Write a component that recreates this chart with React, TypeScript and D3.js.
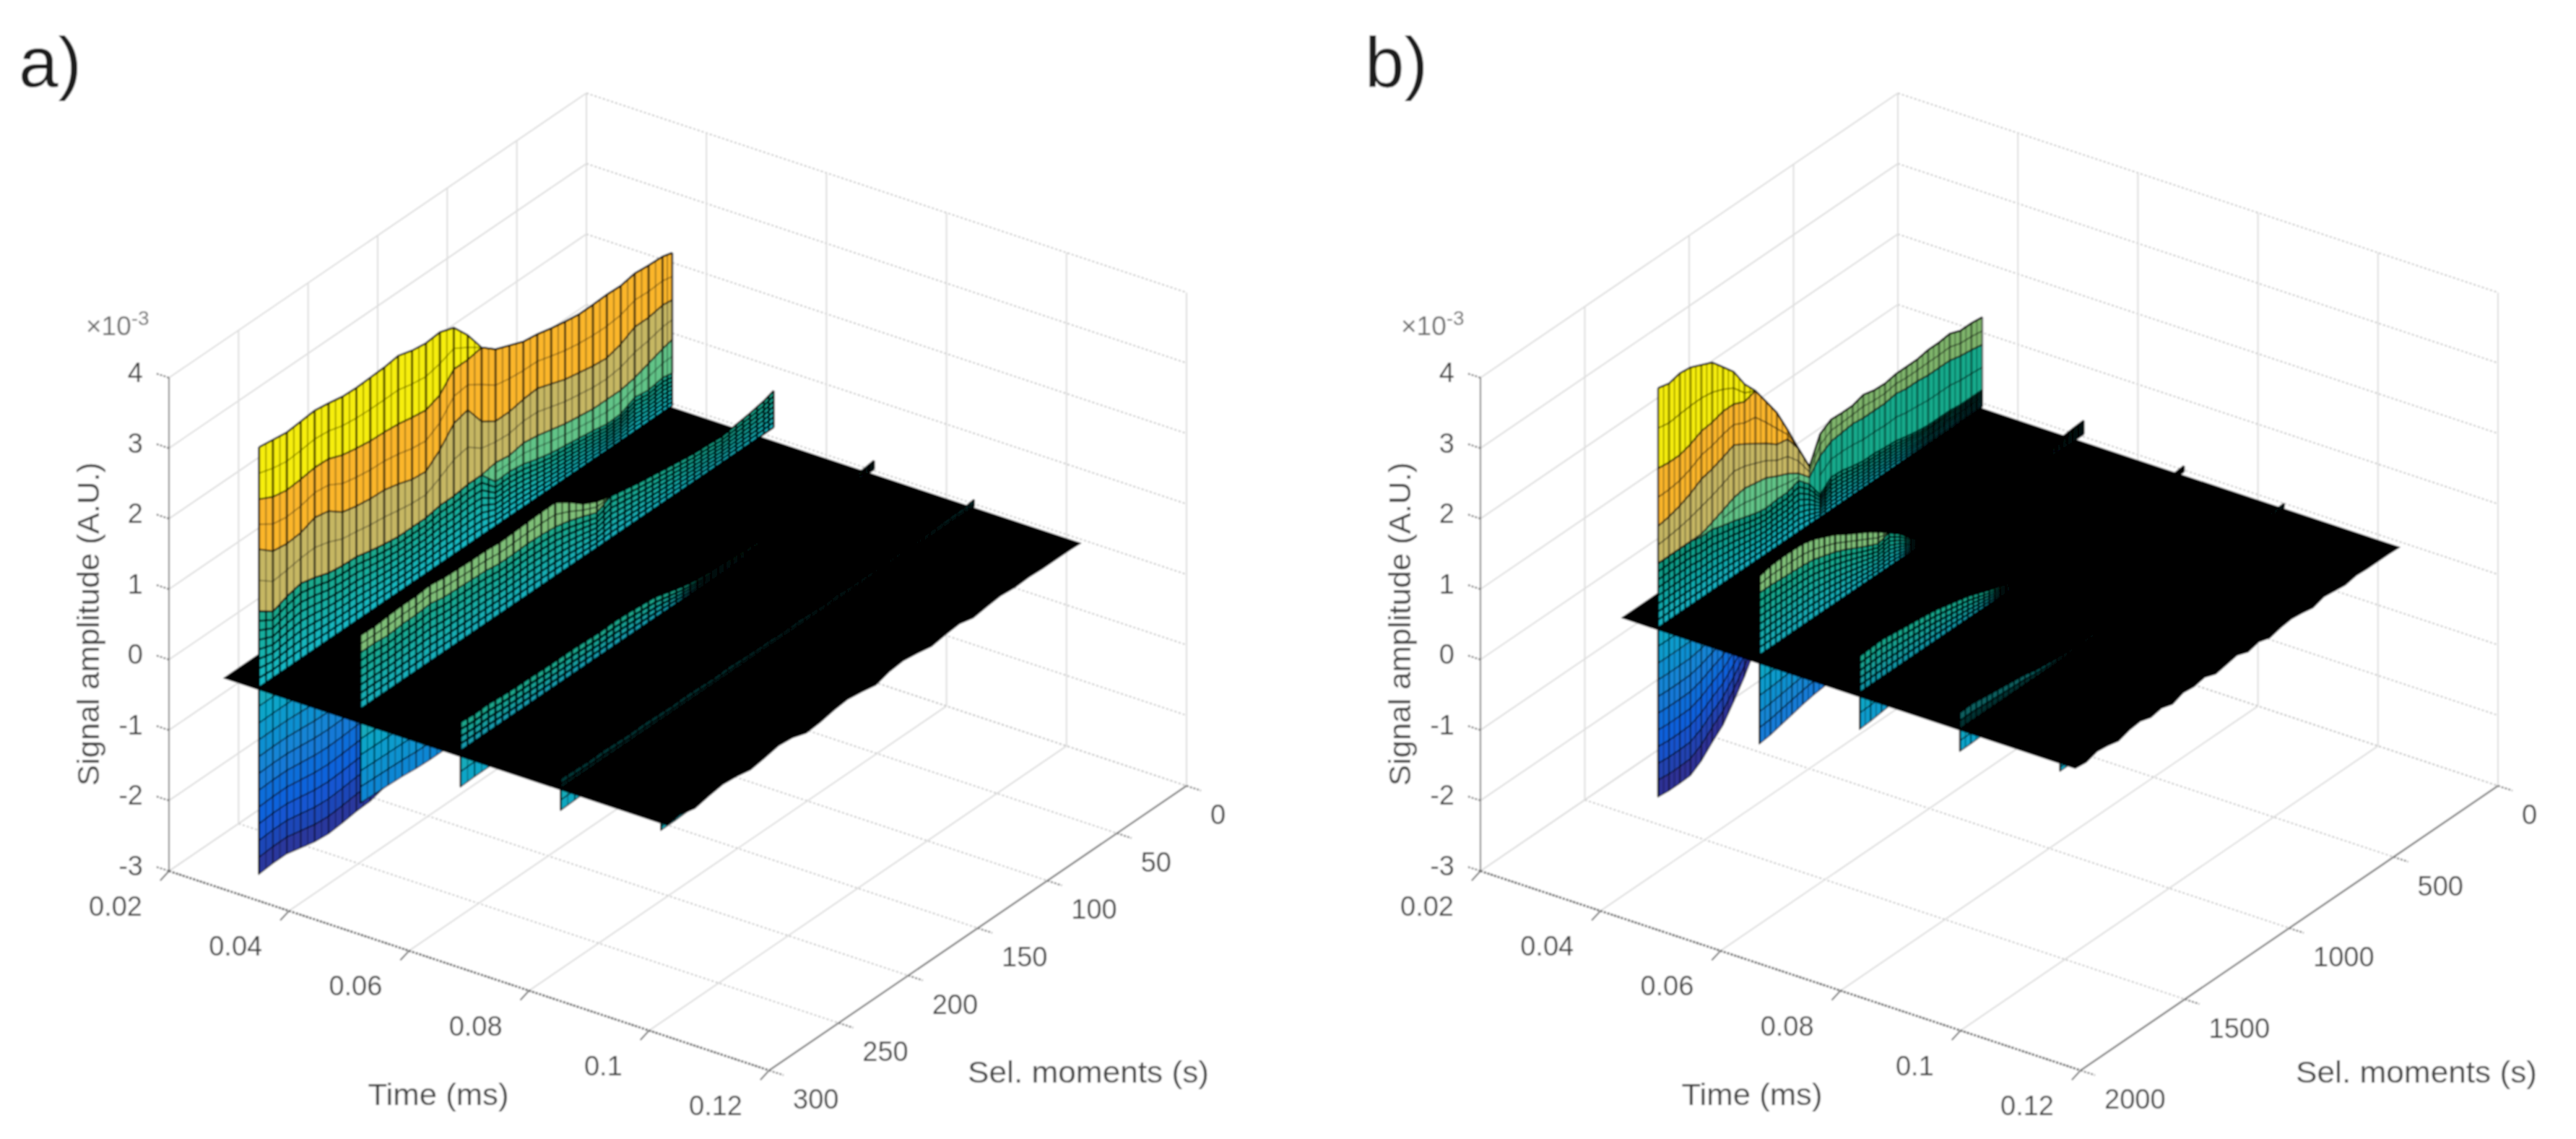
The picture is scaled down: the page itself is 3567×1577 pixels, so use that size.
import React from "react";
import * as d3 from "d3";

// ---------- tick labels ----------
const zTicks = [-3, -2, -1, 0, 1, 2, 3, 4];
const tTicks = [0.02, 0.04, 0.06, 0.08, 0.1, 0.12];
const tLabels = ["0.02", "0.04", "0.06", "0.08", "0.1", "0.12"];
const mTicksA = [0, 50, 100, 150, 200, 250, 300];
const mTicksB = [0, 500, 1000, 1500, 2000];
const wallTimes = [0.035, 0.0519, 0.0686, 0.0853, 0.102];

// ---------- panel a) values: amplitude (x10^-3) along each wall, one per column ----------
const momentsA = [300, 290, 280, 270, 260, 250, 240, 230, 220, 210, 200, 190, 180, 170, 160, 150, 140, 130, 120, 110, 100, 90, 80, 70, 60, 50, 40, 30, 20, 10, 3];
const aW1Top = [3.44, 3.41, 3.38, 3.4, 3.42, 3.39, 3.35, 3.34, 3.35, 3.36, 3.39, 3.33, 3.3, 3.32, 3.25, 3.01, 2.7, 2.54, 2.46, 2.38, 2.35, 2.3, 2.26, 2.23, 2.23, 2.24, 2.23, 2.27, 2.25, 2.24, 2.2];
const aW1Yellow = [2.7, 2.6, 2.56, 2.58, 2.61, 2.6, 2.52, 2.48, 2.45, 2.44, 2.42, 2.38, 2.35, 2.43, 2.66, 2.66];
const aW1Amber = [1.99, 1.83, 1.8, 1.82, 1.9, 1.86, 1.71, 1.66, 1.63, 1.62, 1.57, 1.5, 1.48, 1.65, 1.89, 1.95, 1.65, 1.52, 1.52, 1.56, 1.58, 1.51, 1.44, 1.4, 1.36, 1.34, 1.4, 1.51, 1.51, 1.55, 1.53];
const aW1Khaki = [1.11, 0.97, 1.05, 1.1, 1.05, 0.98, 0.95, 0.94, 0.89, 0.85, 0.82, 0.82, 0.82, 0.86, 0.86, 0.89, 0.89, 0.93, 0.9, 0.94, 0.91, 0.86, 0.81, 0.78, 0.75, 0.75, 0.75, 0.79, 0.86, 0.93, 0.97];
const aW1Green = [null, null, null, null, null, null, null, null, null, null, null, null, null, null, null, null, null, 0.66, 0.67, 0.64, 0.58, 0.53, 0.5, 0.47, 0.44, 0.4, 0.41, 0.51, 0.48, 0.52, 0.49];
const aW2Top = [1.25, 1.24, 1.26, 1.27, 1.27, 1.29, 1.26, 1.25, 1.24, 1.24, 1.22, 1.23, 1.24, 1.25, 1.25, 1.12, 0.96, 0.86, 0.8, 0.76, 0.72, 0.69, 0.66, 0.63, 0.6, 0.59, 0.57, 0.6, 0.63, 0.67, 0.72];
const aW2Lime = [1, 1, 0.98, 1, 1, 1.02, 0.98, 0.97, 0.96, 0.95, 0.92, 0.92, 0.93, 0.92, 0.9, 0.85, 0.78, 0.7];
const aW3Top = [0.49, 0.47, 0.48, 0.46, 0.45, 0.45, 0.44, 0.44, 0.44, 0.43, 0.42, 0.43, 0.42, 0.4, 0.38, 0.32, 0.26, 0.22, 0.2, 0.19, 0.18, 0.17, 0.17, 0.16, 0.16, 0.15, 0.16, 0.15, 0.16, 0.18, 0.2];
const aW4Top = [0.16, 0.15, 0.14, 0.15, 0.14, 0.13, 0.14, 0.13, 0.12, 0.13, 0.12, 0.11, 0.12, 0.11, 0.1, 0.1, 0.09, 0.1, 0.09, 0.08, 0.09, 0.08, 0.08, 0.07, 0.08, 0.07, 0.08, 0.09, 0.1, 0.1, 0.12];
const aNeg1 = [-2.62, -2.6, -2.6, -2.65, -2.7, -2.72, -2.7, -2.67, -2.66, -2.6, -2.5, -2.3, -2, -1.6, -1];
const aNeg2 = [-1.13, -1.14, -1.15, -1.16, -1.18, -1.19, -1.19, -1.17, -1.1, -0.9, -0.5, 0];
const aNeg3 = [-0.43, -0.42, -0.42, -0.4, -0.35, -0.2, 0];
const aNeg4 = [-0.29, -0.28, -0.27, -0.25, -0.2, -0.1, 0];
const aNeg5 = [-0.1, -0.1, -0.09, -0.08, -0.05, 0];
const aEdge = [0, 0.02, -0.03, 0.01, 0.04, 0.02, -0.02, 0.01, 0.05, 0.03, -0.04, -0.02, 0.02, 0.04, 0.01, -0.03, 0.03, 0.05, 0.02, -0.02, 0.01, 0.03, -0.02, 0.01, 0.03, 0.01, 0.02, 0.01, 0.01, 0.01, 0];

// ---------- panel b) values ----------
const momentsB = [1580, 1528, 1476, 1425, 1373, 1321, 1269, 1218, 1166, 1114, 1062, 1011, 959, 907, 855, 804, 752, 700, 648, 597, 545, 493, 441, 390, 338, 286, 234, 183, 131, 79, 27];
const bW1Top = [3.43, 3.39, 3.43, 3.41, 3.34, 3.27, 3.1, 2.93, 2.65, 2.45, 2.19, 1.93, 1.58, 1.21, 0.85, 1.21, 1.31, 1.3, 1.3, 1.35, 1.31, 1.3, 1.33, 1.33, 1.33, 1.36, 1.36, 1.38, 1.32, 1.32, 1.3];
const bW1Yellow = [2.29, 2.27, 2.27, 2.32, 2.4, 2.42, 2.47, 2.47, 2.4];
const bW1Amber = [1.47, 1.5, 1.55, 1.62, 1.72, 1.76, 1.82, 1.89, 1.8, 1.7, 1.6, 1.48, 1.45];
const bW1Khaki = [0.94, 0.94, 0.94, 0.94, 0.94, 1, 1.07, 1.14, 1.17, 1.14, 1.11, 1.03, 0.96, 0.86, 0.7, 0.9, 1, 1.02, 1.04, 1.02, 1.02, 1.02, 1.05, 1.02, 1.02, 1, 1, 1, 0.96, 0.94, 0.91];
const bW1Green = [0.94, 0.94, 0.94, 0.94, 0.9, 0.9, 0.85, 0.81, 0.76, 0.71, 0.68, 0.7, 0.7, 0.76, 0.6, 0.35, 0.49, 0.48, 0.44, 0.41, 0.41, 0.39, 0.38, 0.34, 0.31, 0.29, 0.29, 0.29, 0.27, 0.27, 0.27];
const bW2Top = [1.24, 1.28, 1.29, 1.29, 1.28, 1.24, 1.17, 1.1, 1, 0.91, 0.82, 0.72, 0.6, 0.48, 0.31, 0.2, 0.16, 0.18, 0.2, 0.22, 0.2, 0.2, 0.22, 0.24, 0.25, 0.26, 0.26, 0.27, 0.28, 0.3, 0.31];
const bW2Lime = [1, 1, 0.99, 0.98, 0.97, 0.95, 0.9, 0.85, 0.78, 0.7, 0.62, 0.55];
const bW3Top = [0.58, 0.59, 0.6, 0.58, 0.56, 0.54, 0.52, 0.5, 0.46, 0.42, 0.38, 0.32, 0.26, 0.2, 0.15, 0.1, 0.09, 0.08, 0.09, 0.08, 0.08, 0.07, 0.08, 0.09, 0.08, 0.09, 0.1, 0.1, 0.11, 0.12, 0.14];
const bW4Top = [0.25, 0.26, 0.24, 0.22, 0.2, 0.18, 0.16, 0.12, 0.1, 0.08, 0.07, 0.06, 0.07, 0.06, 0.06, 0.05, 0.06, 0.05, 0.06, 0.05, 0.05, 0.06, 0.05, 0.06, 0.05, 0.06, 0.05, 0.06, 0.06, 0.07, 0.08];
const bNeg1 = [-2.37, -2.39, -2.39, -2.38, -2.28, -2.12, -1.98, -1.75, -1.5, -1.2, -0.9, -0.5, -0.2, 0];
const bNeg2 = [-1.14, -1.12, -1.08, -1.04, -1, -0.97, -0.95, -0.9, -0.8, -0.6, -0.4, -0.2, 0];
const bNeg3 = [-0.46, -0.45, -0.43, -0.41, -0.38, -0.3, -0.15, 0];
const bNeg4 = [-0.3, -0.3, -0.29, -0.25, -0.15, 0];
const bNeg5 = [-0.11, -0.11, -0.1, -0.05, 0];
const bEdge = [0, -0.02, 0.03, 0.01, -0.03, 0.02, 0.04, -0.01, 0.02, -0.03, 0.03, 0.01, 0.04, -0.02, 0.01, 0.04, -0.02, 0.02, -0.03, 0.01, 0.03, 0.01, -0.02, 0.03, 0.01, -0.01, 0.02, 0.01, 0.01, 0.01, 0];

// ---------- colours ----------
const parulaStops = ["#352a87", "#0f5cdd", "#1481d6", "#06a4ca", "#2eb7a4", "#87bf77", "#d1bb59", "#fec832", "#f9fb0e"];
const parula = d3.piecewise(d3.interpolateRgb, parulaStops);
const YELLOW = "#f6ee08";
const AMBER = "#fbb62c";
const KHAKI = "#c6b764";
const GREEN = "#62c488";
const OLIVE = "#7fb56c";
const JADE = "#14ab8c";
const LIME = "#7fbf78";
const INK = "#3f3f3f";
const GRID = "#dddddd";
const GRID_DOT = "#c4c4c4";
const FONT = "'Liberation Sans', Arial, sans-serif";

type P = (t: number, m: number, z: number) => [number, number];
const lineGen = d3.line();

function makeProjection(x0: number, mMax: number): P {
  const tX = d3.scaleLinear().domain([0.02, 0.12]).range([0, 831]);
  const tY = d3.scaleLinear().domain([0.02, 0.12]).range([0, 276]);
  const mX = d3.scaleLinear().domain([mMax, 0]).range([0, 578]);
  const mY = d3.scaleLinear().domain([mMax, 0]).range([0, -394]);
  const zY = d3.scaleLinear().domain([-3, 4]).range([0, -683]);
  return (t, m, z) => [x0 + tX(t) + mX(m), 1206 + tY(t) + mY(m) + zY(z)];
}

type Segment = { from: number; to: number; colors: string[] };
type WallSpec = {
  t: number;
  top: number[];
  lowers: (number | null)[][];
  segments: Segment[];
  rows: number;
  floor: number;
  tealTop: string;
  tealBottom: string;
  strong: number;
  weak: number;
  strokeW: number;
  midOp: number;
};

function Wall({ p, columns, spec }: { p: P; columns: number[]; spec: WallSpec }) {
  const n = spec.top.length;
  const levels: number[][] = [spec.top];
  spec.lowers.forEach((arr) => {
    const prev = levels[levels.length - 1];
    levels.push(spec.top.map((_, j) => arr[j] ?? prev[j]));
  });
  const last = levels[levels.length - 1];
  const pts = (lvl: number[], from = 0, to = n - 1) =>
    d3.range(from, to + 1).map((j) => p(spec.t, columns[j], lvl[j]));
  const poly = (up: number[], lo: number[], from = 0, to = n - 1) =>
    lineGen([...pts(up, from, to), ...pts(lo, from, to).reverse()]) + "Z";

  const rowLevels = d3.range(0, spec.rows + 1).map((r) =>
    last.map((v) => Math.max(spec.floor, v) - (Math.max(spec.floor, v) - spec.floor) * (r / spec.rows))
  );
  const tealColor = d3.interpolateRgb(spec.tealTop, spec.tealBottom);
  const floorLvl = rowLevels[spec.rows];

  const verts: { x: number; yTop: number; yMid: number; yBot: number; strong: boolean }[] = [];
  for (let j = 0; j < n; j++) {
    const a = p(spec.t, columns[j], spec.top[j]);
    const b = p(spec.t, columns[j], Math.max(last[j], spec.floor));
    const c = p(spec.t, columns[j], spec.floor);
    verts.push({ x: a[0], yTop: a[1], yMid: b[1], yBot: c[1], strong: true });
    if (j < n - 1) {
      const a2 = p(spec.t, columns[j + 1], spec.top[j + 1]);
      const b2 = p(spec.t, columns[j + 1], Math.max(last[j + 1], spec.floor));
      const c2 = p(spec.t, columns[j + 1], spec.floor);
      verts.push({ x: (a[0] + a2[0]) / 2, yTop: (a[1] + a2[1]) / 2, yMid: (b[1] + b2[1]) / 2, yBot: (c[1] + c2[1]) / 2, strong: false });
    }
  }

  return (
    <g>
      {spec.segments.map((seg, s) =>
        seg.colors.map((col, i) => (
          <path key={`b${s}-${i}`} d={poly(levels[i], levels[i + 1], seg.from, seg.to)} fill={col} stroke="none" />
        ))
      )}
      {d3.range(0, spec.rows).map((r) => (
        <path key={`r${r}`} d={poly(rowLevels[r], rowLevels[r + 1])} fill={tealColor(r / Math.max(1, spec.rows - 1))} stroke="none" />
      ))}
      {verts.map((v, i) => (
        <g key={`v${i}`}>
          <line x1={v.x} x2={v.x} y1={v.yTop} y2={v.yMid} stroke="#000" strokeOpacity={v.strong ? spec.strong : spec.weak} strokeWidth={v.strong ? 3 : 1.8} />
          <line x1={v.x} x2={v.x} y1={v.yMid} y2={v.yBot} stroke="#000" strokeOpacity={0.9} strokeWidth={spec.strokeW} />
        </g>
      ))}
      {rowLevels.slice(1).map((lvl, r) => (
        <path key={`rl${r}`} d={lineGen(pts(lvl)) as string} fill="none" stroke="#000" strokeOpacity={0.9} strokeWidth={spec.strokeW} />
      ))}
      {levels.slice(0, -1).map((lvl, i) => {
        const next = levels[i + 1];
        const mid = lvl.map((v, j) => (v + next[j]) / 2);
        const gapped = d3.range(0, n - 1).filter((j) => lvl[j] - next[j] > 0.12);
        return (
          <g key={`m${i}`}>
            {gapped.map((j) => (
              <path key={j} d={lineGen([p(spec.t, columns[j], mid[j]), p(spec.t, columns[j + 1], mid[j + 1])]) as string} stroke="#000" strokeOpacity={spec.midOp} strokeWidth={1.6} fill="none" />
            ))}
          </g>
        );
      })}
      {levels.slice(1).map((lvl, i) => (
        <path key={`l${i}`} d={lineGen(pts(lvl)) as string} fill="none" stroke="#000" strokeOpacity={0.8} strokeWidth={2.2} />
      ))}
      <path d={lineGen(pts(spec.top)) as string} fill="none" stroke="#000" strokeOpacity={0.9} strokeWidth={2.6} />
      <path d={lineGen([p(spec.t, columns[0], spec.top[0]), p(spec.t, columns[0], floorLvl[0])]) as string} stroke="#000" strokeOpacity={0.7} strokeWidth={2} fill="none" />
    </g>
  );
}

function NegWall({ p, t, columns, depth, clim }: { p: P; t: number; columns: number[]; depth: number[]; clim: d3.ScaleLinear<number, number> }) {
  const rows = Math.max(2, Math.ceil(Math.abs(depth[0]) / 0.24));
  const lvl = (f: number) => depth.map((d, j) => p(t, columns[j], d * f));
  return (
    <g>
      {d3.range(0, rows).map((r) => {
        const up = lvl(r / rows);
        const lo = lvl((r + 1) / rows);
        return (
          <path key={r} d={lineGen([...up, ...lo.slice().reverse()]) + "Z"} fill={parula(clim(depth[0] * ((r + 0.7) / rows)))} stroke="#000" strokeOpacity={0.6} strokeWidth={1.7} />
        );
      })}
      {depth.map((d, j) => {
        const a = p(t, columns[j], 0);
        const b = p(t, columns[j], d);
        const next = j < depth.length - 1 ? p(t, columns[j + 1], depth[j + 1]) : b;
        const nextA = j < depth.length - 1 ? p(t, columns[j + 1], 0) : a;
        return (
          <g key={j}>
            <line x1={a[0]} x2={b[0]} y1={a[1]} y2={b[1]} stroke="#000" strokeOpacity={0.55} strokeWidth={2.2} />
            <line x1={(a[0] + nextA[0]) / 2} x2={(b[0] + next[0]) / 2} y1={(a[1] + nextA[1]) / 2} y2={(b[1] + next[1]) / 2} stroke="#000" strokeOpacity={0.35} strokeWidth={1.6} />
          </g>
        );
      })}
      <path d={lineGen([p(t, columns[0], 0), p(t, columns[0], depth[0])]) as string} stroke="#000" strokeWidth={2.5} fill="none" />
    </g>
  );
}

function Panel({ x0, mMax, mTicks, label, labelX, momentsLabelX, timeLabelX, expX, columns, walls, negs, edge, tSheet, clim }: any) {
  const p = makeProjection(x0, mMax);
  const seg = (a: [number, number], b: [number, number]) => lineGen([a, b]) as string;
  const columnsRev = columns.slice().reverse();
  const sheet =
    lineGen([
      p(tSheet[0], columns[0], 0),
      p(tSheet[1], columns[0], edge[0]),
      ...columns.map((m: number, j: number) => p(tSheet[1], m, edge[j])),
      p(tSheet[0], columnsRev[0], 0),
    ]) + "Z";
  const txt = { fontFamily: FONT, fill: INK };
  return (
    <g>
      <g fill="none" strokeWidth={2}>
        {zTicks.map((z) => (
          <g key={z}>
            <path d={seg(p(0.02, mMax, z), p(0.02, 0, z))} stroke={GRID} />
            <path d={seg(p(0.02, 0, z), p(0.12, 0, z))} stroke={GRID_DOT} strokeDasharray="3 3" />
          </g>
        ))}
        {mTicks.map((m: number) => (
          <g key={m}>
            <path d={seg(p(0.02, m, -3), p(0.02, m, 4))} stroke={GRID} />
            <path d={seg(p(0.02, m, -3), p(0.12, m, -3))} stroke={GRID_DOT} strokeDasharray="3 3" />
          </g>
        ))}
        {tTicks.map((t) => (
          <g key={t}>
            <path d={seg(p(t, 0, -3), p(t, 0, 4))} stroke={GRID} />
            <path d={seg(p(t, mMax, -3), p(t, 0, -3))} stroke={GRID} />
          </g>
        ))}
      </g>
      <g fill="none">
        <path d={seg(p(0.02, mMax, -3), p(0.02, mMax, 4))} stroke="#8a8a8a" strokeWidth={2.2} />
        <path d={seg(p(0.02, mMax, -3), p(0.12, mMax, -3))} stroke="#5e5e5e" strokeWidth={3} strokeDasharray="3 2" />
        <path d={seg(p(0.12, mMax, -3), p(0.12, 0, -3))} stroke="#7a7a7a" strokeWidth={2.4} />
        {zTicks.map((z) => (
          <path key={z} d={seg(p(0.02, mMax, z), p(0.0178, mMax, z))} stroke="#777" strokeWidth={2.4} strokeDasharray="3 2" />
        ))}
        {tTicks.map((t) => (
          <path key={t} d={seg(p(t, mMax, -3), p(t, mMax * 1.021, -3.05))} stroke="#777" strokeWidth={2.2} />
        ))}
        {mTicks.map((m: number) => (
          <path key={m} d={seg(p(0.12, m, -3), p(0.1224, m, -3))} stroke="#777" strokeWidth={2.4} strokeDasharray="3 2" />
        ))}
      </g>
      {negs.map((depth: number[], i: number) => (
        <NegWall key={i} p={p} t={wallTimes[i]} columns={columns} depth={depth} clim={clim} />
      ))}
      <path d={sheet} fill="#000" stroke="#000" strokeWidth={1.5} />
      {walls.map((spec: WallSpec, i: number) => (
        <Wall key={i} p={p} columns={columns} spec={spec} />
      ))}
      {zTicks.map((z) => {
        const [x, y] = p(0.02, mMax, z);
        return (
          <text key={z} x={x - 36} y={y - 7} fontSize={38} textAnchor="end" dominantBaseline="central" {...txt}>
            {z}
          </text>
        );
      })}
      {tTicks.map((t, i) => {
        const [x, y] = p(t, mMax, -3);
        return (
          <text key={t} x={x - 37} y={y + 49} fontSize={38} textAnchor="end" dominantBaseline="central" {...txt}>
            {tLabels[i]}
          </text>
        );
      })}
      {mTicks.map((m: number) => {
        const [x, y] = p(0.12, m, -3);
        return (
          <text key={m} x={x + 33} y={y + 40} fontSize={38} textAnchor="start" dominantBaseline="central" {...txt}>
            {m}
          </text>
        );
      })}
      <text x={timeLabelX} y={1515} fontSize={42} textAnchor="middle" dominantBaseline="central" textLength={195} lengthAdjust="spacingAndGlyphs" {...txt}>
        Time (ms)
      </text>
      <text x={momentsLabelX} y={1484} fontSize={42} textAnchor="middle" dominantBaseline="central" textLength={334} lengthAdjust="spacingAndGlyphs" {...txt}>
        Sel. moments (s)
      </text>
      <text transform={`translate(${x0 - 97},864) rotate(-90)`} fontSize={43} textAnchor="middle" textLength={448} lengthAdjust="spacingAndGlyphs" {...txt}>
        Signal amplitude (A.U.)
      </text>
      <text x={expX} y={464} fontSize={37} fontFamily={FONT} fill="#6a6a6a">
        ×10
        <tspan fontSize={28} dy={-14}>
          -3
        </tspan>
      </text>
      <text x={labelX} y={120} fontSize={98} fontFamily={FONT} fill="#1e1e1e">
        {label}
      </text>
    </g>
  );
}

const aColors = [YELLOW, AMBER, KHAKI, GREEN];
const wallsA: WallSpec[] = [
  { t: wallTimes[0], top: aW1Top, lowers: [aW1Yellow, aW1Amber, aW1Khaki, aW1Green], segments: [{ from: 0, to: 30, colors: aColors }], rows: 8, floor: 0.03, tealTop: "#1aa98c", tealBottom: "#16b9c6", strong: 0.7, weak: 0.35, strokeW: 2.5, midOp: 0.4 },
  { t: wallTimes[1], top: aW2Top, lowers: [aW2Lime], segments: [{ from: 0, to: 30, colors: [LIME] }], rows: 7, floor: 0.2, tealTop: "#1aa98c", tealBottom: "#16b0bc", strong: 0.85, weak: 0.7, strokeW: 2.6, midOp: 0.8 },
  { t: wallTimes[2], top: aW3Top, lowers: [], segments: [], rows: 4, floor: 0.08, tealTop: "#1ca88c", tealBottom: "#149cae", strong: 0.9, weak: 0.85, strokeW: 3, midOp: 0.8 },
  { t: wallTimes[3], top: aW4Top, lowers: [], segments: [], rows: 2, floor: 0.02, tealTop: "#063a3a", tealBottom: "#021c1c", strong: 0.9, weak: 0.9, strokeW: 2, midOp: 0.8 },
];
const bLeft = [YELLOW, AMBER, KHAKI, GREEN];
const bRight = [YELLOW, AMBER, OLIVE, JADE];
const wallsB: WallSpec[] = [
  { t: wallTimes[0], top: bW1Top, lowers: [bW1Yellow, bW1Amber, bW1Khaki, bW1Green], segments: [{ from: 0, to: 14, colors: bLeft }, { from: 14, to: 30, colors: bRight }], rows: 8, floor: 0.03, tealTop: "#0f9a80", tealBottom: "#12b2c2", strong: 0.45, weak: 0.35, strokeW: 2.4, midOp: 0.6 },
  { t: wallTimes[1], top: bW2Top, lowers: [bW2Lime], segments: [{ from: 0, to: 30, colors: [LIME] }], rows: 8, floor: 0.12, tealTop: "#14a888", tealBottom: "#14aebc", strong: 0.85, weak: 0.75, strokeW: 2.4, midOp: 0.8 },
  { t: wallTimes[2], top: bW3Top, lowers: [], segments: [], rows: 5, floor: 0.06, tealTop: "#18a88c", tealBottom: "#1098a8", strong: 0.9, weak: 0.85, strokeW: 2.6, midOp: 0.8 },
  { t: wallTimes[3], top: bW4Top, lowers: [], segments: [], rows: 2, floor: 0.02, tealTop: "#086060", tealBottom: "#033030", strong: 0.85, weak: 0.85, strokeW: 2, midOp: 0.8 },
];

export default function App() {
  const climA = d3.scaleLinear().domain([-2.75, 3.44]).range([0, 1]).clamp(true);
  const climB = d3.scaleLinear().domain([-2.42, 3.43]).range([0, 1]).clamp(true);
  return (
    <svg width={3567} height={1577} viewBox="0 0 3567 1577" style={{ position: "absolute", left: 0, top: 0, display: "block", background: "#fff" }}>
      <defs>
        <filter id="soft" x="0" y="0" width="3567" height="1577" filterUnits="userSpaceOnUse">
          <feGaussianBlur stdDeviation="1.2" />
        </filter>
      </defs>
      <rect width={3567} height={1577} fill="#fff" />
      <g filter="url(#soft)">
        <rect x={0} y={0} width={3567} height={1577} fill="#fff" />
        <Panel x0={234} mMax={300} mTicks={mTicksA} label="a)" labelX={26} momentsLabelX={1507} timeLabelX={607} expX={119} columns={momentsA} walls={wallsA} negs={[aNeg1, aNeg2, aNeg3, aNeg4, aNeg5]} edge={aEdge} tSheet={[0.0292, 0.103]} clim={climA} />
        <Panel x0={2050} mMax={2000} mTicks={mTicksB} label="b)" labelX={1890} momentsLabelX={3346} timeLabelX={2426} expX={1940} columns={momentsB} walls={wallsB} negs={[bNeg1, bNeg2, bNeg3, bNeg4, bNeg5]} edge={bEdge} tSheet={[0.029, 0.1045]} clim={climB} />
      </g>
    </svg>
  );
}
